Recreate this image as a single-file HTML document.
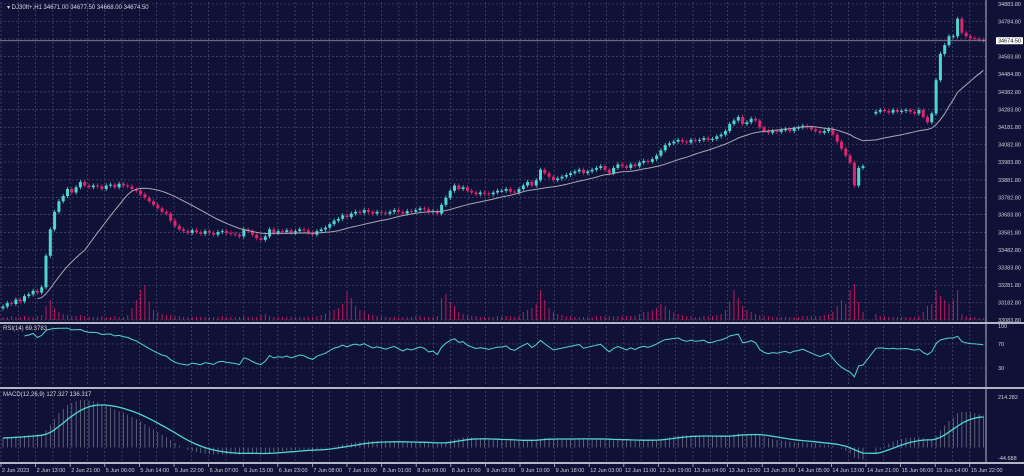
<!DOCTYPE html>
<html><head><meta charset="utf-8"><style>
html,body{margin:0;padding:0;background:#0f1136;overflow:hidden}
svg{display:block;font-family:"Liberation Sans",sans-serif}
</style></head><body>
<svg id="chart" width="1024" height="476" viewBox="0 0 1024 476" xmlns="http://www.w3.org/2000/svg">
<rect x="0" y="0" width="1024" height="476" fill="#0f1136"/>
<g id="grid"></g><g id="vol"></g><g id="candles"></g><g id="ma"></g><g id="rsi"></g><g id="macd"></g><g id="axes"></g>
<text x="7" y="9" font-size="6" fill="#d8d8e0">▾ DJ30ft+,H1  34671.00 34677.50 34668.00 34674.50</text>
<text x="3" y="330" font-size="6" fill="#d8d8e0">RSI(14) 69.3783</text>
<text x="3" y="396" font-size="6" fill="#d8d8e0">MACD(12,26,9) 127.327 136.317</text>
</svg>
<script>
const closes=[33160,33180,33175,33200,33190,33220,33230,33250,33240,33270,
33450,33600,33700,
33760,33790,33830,33810,33840,33870,33850,
33840,33850,33845,33830,33850,33855,33840,33860,33850,33845,33830,
33820,33800,33780,33760,33740,33720,33700,33690,33650,33620,
33600,33590,33580,33595,33585,33575,33590,33580,33570,33585,33590,33580,33575,33570,33560,33600,33590,33570,
33550,33540,33560,33600,33580,33590,
33585,33595,33580,33590,33600,33595,33580,33570,33590,33600,33610,
33630,33650,33660,33680,33670,33690,33700,33695,33710,33700,
33690,33700,33695,33690,33700,33710,33700,33690,33705,33700,33710,33720,33715,33700,33705,33690,
33740,33780,33820,33850,33830,
33840,33820,33810,33800,33810,33805,33800,33810,33820,
33820,33830,33815,33810,33830,33850,33870,33850,33880,33940,
33920,33900,33880,33890,33900,33910,33920,33930,33940,33920,33930,33940,
33950,33960,33940,33920,33950,33970,33960,33950,33970,33960,
33980,33990,33985,34000,34020,34050,
34080,34090,34100,34110,34100,34095,34110,34105,34110,
34120,34110,34115,34130,34140,34160,34200,
34220,34240,34200,34210,34230,34220,34180,
34160,34150,34160,34155,34165,34170,34160,34175,34180,34190,
34180,34170,34160,34150,34160,34170,34140,34100,34060,
34020,33980,33850,33950,33960,
null,null,
34270,34280,34275,34265,34280,34270,34275,34280,34270,34260,34280,
34240,34210,34260,
34450,34600,34650,34700,34700,34800,
34720,34700,34690,34685,34680,34674.5];
const volumes=[3,3,4,3,3,4,3,3,4,5, 14,20,12, 8,6,5,4,4,5,4, 3,3,3,4,3,3,4,3,3,5,12, 20,30,35,18,10,8,6,5,5,4,
4,3,3,3,3,3,3,3,3,3,4,3,3,3,3,4,3,3, 3,5,6,4,3,3, 3,3,3,3,3,3,3,3,4,5,6,
8,10,12,16,28,22,14,10,8,6, 5,4,4,3,3,3,3,3,3,3,4,4,3,3,3,4, 22,26,18,14,8,
6,5,4,4,3,3,3,3,4, 4,4,4,3,4,8,10,12,16,30, 20,12,8,6,5,4,4,3,3,3,3,3,
4,4,4,4,4,4,4,4,4,4, 6,8,8,10,12,16, 14,10,8,6,5,4,4,3,3, 4,4,4,5,6,10,18,
30,22,14,10,8,6,5, 4,4,3,3,3,3,3,3,3,4, 4,4,4,4,5,6,8,14,20, 16,30,36,18,8,
0,0, 6,4,4,3,3,3,3,3,3,3,4, 8,14,16, 30,24,20,16,20,30, 6,4,3,3,2,2];
const priceTicks=[34883.8,34784.8,34683.8,34583.8,34484.8,34382.8,34283.8,34181.8,34082.8,33983.8,33881.8,33782.8,33683.8,33581.8,33482.8,33383.8,33281.8,33182.8,33083.8];
const timeLabels=["2 Jun 2023","2 Jun 13:00","2 Jun 21:00","5 Jun 06:00","5 Jun 14:00","5 Jun 22:00","6 Jun 07:00","6 Jun 15:00","6 Jun 23:00","7 Jun 08:00","7 Jun 16:00","8 Jun 01:00","8 Jun 09:00","8 Jun 17:00","9 Jun 02:00","9 Jun 10:00","9 Jun 18:00","12 Jun 03:00","12 Jun 11:00","12 Jun 19:00","13 Jun 04:00","13 Jun 12:00","13 Jun 20:00","14 Jun 05:00","14 Jun 13:00","14 Jun 21:00","15 Jun 06:00","15 Jun 14:00","15 Jun 22:00"];
const rsiTicks=[100,70,30];
const macdTicks=[214.282,-44.688];
const lastPrice=34674.5;

const NS="http://www.w3.org/2000/svg";
function mk(tag,attrs,parent){const e=document.createElementNS(NS,tag);for(const k in attrs)e.setAttribute(k,attrs[k]);parent.appendChild(e);return e;}
const PMAX=34883.8,PMIN=33083.8,PT=4,PB=320,AX=986;
const yP=p=>PT+(PMAX-p)/(PMAX-PMIN)*(PB-PT);
const xI=i=>3+i*4.3;
const yR=v=>326+(100-v)/100*60;
const yM=v=>397+(214.282-v)/(214.282+44.688)*61;
const G=id=>document.getElementById(id);

const grid=G('grid');
for(let k=0;k<58;k++){const x=1+k*17.3;if(x>AX)break;
 [[2,320],[326,386],[391,461]].forEach(([a,b])=>{const l=mk('line',{x1:x,x2:x,y1:a,y2:b,stroke:'#565a7e','stroke-width':0.6,'stroke-dasharray':'2,2'},grid);
 });}
priceTicks.forEach(p=>{const l=mk('line',{x1:0,x2:AX,y1:yP(p),y2:yP(p),stroke:'#565a7e','stroke-width':0.6,'stroke-dasharray':'2,2'},grid);
 });
[70,30].forEach(v=>{const l=mk('line',{x1:0,x2:AX,y1:yR(v),y2:yR(v),stroke:'#565a7e','stroke-width':0.6,'stroke-dasharray':'2,2'},grid);
 });

const vg=G('vol');
volumes.forEach((v,i)=>{if(!v)return;const r=mk('rect',{x:xI(i)-0.5,y:PB-v,width:1,height:v,fill:'#c0185e'},vg);
 });

const cg=G('candles');let prev=closes[0]-10;
closes.forEach((c,i)=>{if(c===null){prev=null;return;}const o=prev===null?c-10:prev;prev=c;
 const up=c>=o,col=up?'#4fd6d2':'#e0246e',hi=Math.max(o,c)+12,lo=Math.min(o,c)-12,x=xI(i);
 const w=mk('line',{x1:x,x2:x,y1:yP(hi),y2:yP(lo),stroke:col,'stroke-width':0.8},cg);
 
 const b=mk('rect',{x:x-1.5,y:yP(Math.max(o,c)),width:3,height:Math.max(1,Math.abs(yP(o)-yP(c))),fill:col},cg);
 });

const valid=closes.map((c,i)=>[c,i]).filter(a=>a[0]!==null);
let d='';valid.forEach((a,k)=>{if(k<8)return;const s=valid.slice(Math.max(0,k-19),k+1);const m=s.reduce((t,b)=>t+b[0],0)/s.length;d+=(d?'L':'M')+xI(a[1]).toFixed(1)+','+yP(m).toFixed(1);});
const ma=mk('path',{d:d,fill:'none',stroke:'#a8a8b4','stroke-width':1},G('ma'));


let ag=0,al=0,rd='';
for(let k=1;k<valid.length;k++){const ch=valid[k][0]-valid[k-1][0];const g=Math.max(ch,0),l=Math.max(-ch,0);
 if(k<=14){ag+=g/14;al+=l/14;}else{ag=(ag*13+g)/14;al=(al*13+l)/14;}
 if(k>=5){const r=al===0?100:100-100/(1+ag/al);rd+=(rd?'L':'M')+xI(valid[k][1]).toFixed(1)+','+yR(r).toFixed(1);}}
const rl=mk('path',{d:rd,fill:'none',stroke:'#4fd6d2','stroke-width':1},G('rsi'));


const mg=G('macd');let e12=valid[0][0]-60,e26=valid[0][0]-100,sig=40,sd='';
valid.forEach((a,k)=>{e12+= (a[0]-e12)*2/13;e26+=(a[0]-e26)*2/27;const m=e12-e26;sig+=(m-sig)*2/10;const x=xI(a[1]);
 const hb=mk('line',{x1:x,x2:x,y1:yM(0),y2:yM(m),stroke:'#7c7e92','stroke-width':0.7},mg);
 
 sd+=(sd?'L':'M')+x.toFixed(1)+','+yM(sig).toFixed(1);});
const sl=mk('path',{d:sd,fill:'none',stroke:'#4fd6d2','stroke-width':1.3},mg);


const ax=G('axes');
[[0,323,1024,323],[0,388,1024,388],[0,463,1024,463]].forEach(s=>{const l=mk('line',{x1:s[0],y1:s[1],x2:s[2],y2:s[3],stroke:'#b4b6c4','stroke-width':2},ax);
 });
const av=mk('line',{x1:AX,y1:0,x2:AX,y2:464,stroke:'#b4b6c4','stroke-width':1},ax);

priceTicks.forEach(p=>{const t=mk('text',{x:AX+12,y:yP(p)+2,'font-size':5.5,fill:'#d0d0d8'},ax);t.textContent=p.toFixed(2);
 });
const pl=mk('line',{x1:0,x2:AX,y1:yP(lastPrice),y2:yP(lastPrice),stroke:'#9a9cae','stroke-width':0.8},ax);

const pb=mk('rect',{x:AX+10,y:yP(lastPrice)-3.5,width:27,height:7,fill:'#ffffff'},ax);

const pt=mk('text',{x:AX+12,y:yP(lastPrice)+2,'font-size':5.5,fill:'#000'},ax);pt.textContent=lastPrice.toFixed(2);

rsiTicks.forEach(v=>{const t=mk('text',{x:AX+12,y:yR(v)+2,'font-size':5.5,fill:'#d0d0d8'},ax);t.textContent=v;
 });
macdTicks.forEach(v=>{const t=mk('text',{x:AX+12,y:yM(v)+2,'font-size':5.5,fill:'#d0d0d8'},ax);t.textContent=v.toFixed(3);
 });
timeLabels.forEach((s,k)=>{const x=1+k*34.6;
 const tk=mk('line',{x1:x,x2:x,y1:463,y2:467,stroke:'#b4b6c4','stroke-width':0.8},ax);
 
 const t=mk('text',{x:x+1,y:472,'font-size':5.5,fill:'#d0d0d8'},ax);t.textContent=s;
 });
</script>
</body></html>
